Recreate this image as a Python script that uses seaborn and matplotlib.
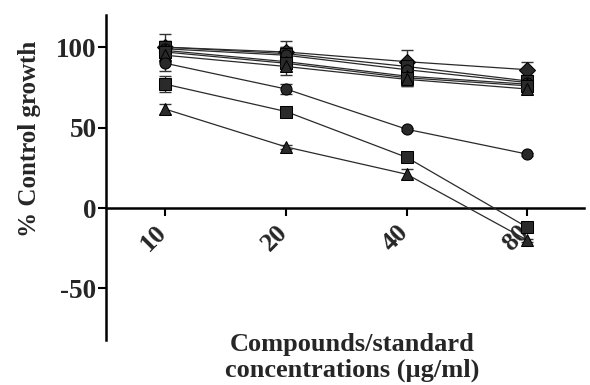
import numpy as np
import pandas as pd
import matplotlib
matplotlib.use("Agg")
import matplotlib.pyplot as plt
import matplotlib.transforms as mtransforms
import seaborn as sns

concentrations = ["10", "20", "40", "80"]
series_names = ["S1", "S2", "S3", "S4", "S5", "S6", "C1", "C2", "C3"]
markers = ["D", "s", "o", "^", "s", "^", "o", "s", "^"]

s1 = [100, 97, 91, 86]
s2 = [100, 96, 88, 79]
s3 = [99, 95, 86, 78]
s4 = [98, 91, 82, 77]
s5 = [97, 90, 81, 76]
s6 = [95, 88, 80, 74]
c1 = [90, 74, 49, 33.5]
c2 = [77, 60, 31.5, -12]
c3 = [61.5, 38, 21, -20]

e1 = [8, 7, 7, 5]
e2 = [4, 4, 4, 4]
e3 = [5, 5, 5, 4]
e4 = [4, 4, 4, 3]
e5 = [4, 5, 5, 3]
e6 = [4, 5, 4, 3]
ec1 = [5, 3, 1, 1]
ec2 = [5, 2, 2, 1]
ec3 = [3, 1, 3, 1]

values = [s1, s2, s3, s4, s5, s6, c1, c2, c3]
errors = [e1, e2, e3, e4, e5, e6, ec1, ec2, ec3]

rows = []
for name, vals, errs in zip(series_names, values, errors):
    for i, (c, v, e) in enumerate(zip(concentrations, vals, errs)):
        rows.append({"series": name, "pos": i, "conc": c, "value": v, "err": e})
df = pd.DataFrame(rows)

sns.set_theme(style="white")
plt.rcParams["font.family"] = ["Liberation Serif", "DejaVu Serif"]
plt.rcParams["font.weight"] = "bold"

fig = plt.figure(figsize=(5.9, 3.85), dpi=100)
ax = fig.add_axes([0.18, 0.117, 0.81, 0.844])

marker_map = dict(zip(series_names, markers))
sns.lineplot(data=df, x="pos", y="value", hue="series", style="series",
             markers=marker_map, dashes=False,
             palette=["#2a2a2a"] * len(series_names),
             markersize=8, linewidth=0.9, markeredgecolor="black",
             legend=False, ax=ax, zorder=3)
for name in series_names:
    d = df[df["series"] == name]
    ax.errorbar(d["pos"], d["value"], yerr=d["err"], fmt="none",
                ecolor="#333333", elinewidth=1.0, capsize=4, capthick=1.0, zorder=2)

for sp in ["top", "right"]:
    ax.spines[sp].set_visible(False)
ax.spines["bottom"].set_position(("data", 0))
ax.spines["bottom"].set_linewidth(1.8)
ax.spines["left"].set_linewidth(1.8)
ax.spines["bottom"].set_color("black")
ax.spines["left"].set_color("black")

ax.set_xlim(-0.49, 3.47)
ax.set_ylim(-82, 120)
ax.set_yticks([100, 50, 0, -50])
ax.set_yticklabels(["100", "50", "0", "-50"], fontsize=19.5, fontweight="bold")
ax.set_xticks(range(len(concentrations)))
ax.set_xticklabels(concentrations, rotation=45, fontsize=19, fontweight="bold",
                   ha="right", va="top")
ax.tick_params(axis="x", direction="out", length=6, width=1.5, pad=3, bottom=True,
               color="black")
ax.tick_params(axis="y", direction="out", length=6, width=1.5, pad=1, left=True,
               color="black")
offset = mtransforms.ScaledTranslation(6 / 100, 0, fig.dpi_scale_trans)
for lbl in ax.get_xticklabels():
    lbl.set_transform(lbl.get_transform() + offset)

ax.set_ylabel("% Control growth", fontsize=18, fontweight="bold")
ax.yaxis.set_label_coords(-0.136, 0.62)
ax.set_xlabel("")
fig.text(0.597, 0.072, "Compounds/standard\nconcentrations (µg/ml)", ha="center",
         va="center", fontsize=19, fontweight="bold", linespacing=1.12)

fig.savefig("out.png", dpi=100)
